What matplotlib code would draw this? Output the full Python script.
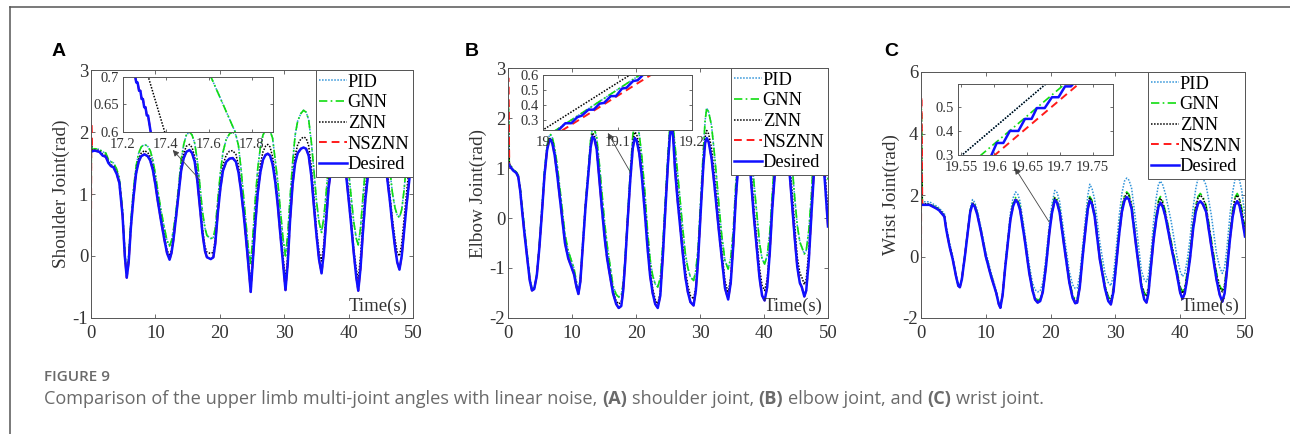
import numpy as np
import matplotlib.pyplot as plt
from matplotlib.lines import Line2D
from matplotlib.ticker import FuncFormatter

plt.rcParams['font.family'] = ['Liberation Serif', 'DejaVu Serif']
plt.rcParams['axes.unicode_minus'] = False

# ---------------- panel A : shoulder joint ----------------
tA = [0, 0.05, 0.15, 0.6, 1.3, 1.8, 2.3, 2.7, 3.1, 3.5,
      4.0, 4.4, 4.9, 5.25, 5.55, 5.85, 6.2, 6.6, 7.0, 7.4,
      7.8, 8.3, 8.8, 9.2, 9.6, 10.0, 10.35, 10.9, 11.4, 11.8,
      12.2, 12.5, 12.8, 13.2, 13.6, 14.0, 14.4, 14.8, 15.3, 15.7,
      16.1, 16.5, 16.9, 17.3, 17.7, 18.0, 18.6, 19.0, 19.3, 19.7,
      20.1, 20.5, 21.0, 21.5, 22.0, 22.5, 22.9, 23.3, 23.7, 24.05,
      24.4, 24.8, 25.15, 25.5, 25.9, 26.3, 26.7, 27.1, 27.45, 27.8,
      28.2, 28.6, 29.0, 29.4, 29.8, 30.2, 30.55, 30.9, 31.3, 31.7,
      32.1, 32.6, 33.0, 33.4, 33.8, 34.2, 34.6, 35.0, 35.4, 35.8,
      36.15, 36.5, 36.9, 37.3, 37.8, 38.3, 38.8, 39.2, 39.6, 40.0,
      40.4, 40.8, 41.2, 41.5, 41.85, 42.2, 42.6, 43.0, 43.5, 44.0,
      44.6, 45.1, 45.6, 46.0, 46.4, 46.8, 47.2, 47.55, 47.9, 48.25,
      48.6, 49.0, 49.5, 50.0]
desA = [1.68, 1.68, 1.69, 1.70, 1.68, 1.62, 1.60, 1.50, 1.45, 1.43,
        1.32, 1.18, 0.65, 0.00, -0.35, -0.10, 0.47, 0.95, 1.33, 1.52,
        1.61, 1.64, 1.61, 1.54, 1.39, 1.15, 0.90, 0.55, 0.26, 0.05,
        -0.06, 0.05, 0.26, 0.62, 1.00, 1.38, 1.58, 1.68, 1.71, 1.66,
        1.52, 1.22, 0.80, 0.37, 0.08, -0.02, -0.05, -0.02, 0.20, 0.70,
        1.10, 1.38, 1.52, 1.57, 1.58, 1.52, 1.35, 1.05, 0.68, 0.30,
        -0.10, -0.58, -0.05, 0.50, 1.02, 1.35, 1.55, 1.63, 1.65, 1.62,
        1.48, 1.20, 0.82, 0.35, -0.10, -0.55, -0.12, 0.55, 1.15, 1.50,
        1.66, 1.73, 1.75, 1.73, 1.62, 1.30, 0.82, 0.35, -0.05, -0.28,
        0.05, 0.55, 1.10, 1.42, 1.62, 1.70, 1.72, 1.62, 1.32, 0.92,
        0.50, 0.05, -0.35, -0.56, -0.20, 0.35, 0.90, 1.30, 1.55, 1.68,
        1.72, 1.68, 1.52, 1.25, 0.90, 0.50, 0.15, -0.10, -0.22, 0.00,
        0.38, 0.82, 1.30, 1.63]
gnnA = [0.15, 1.90, 1.72, 1.73, 1.72, 1.68, 1.66, 1.56, 1.52, 1.50,
        1.40, 1.26, 0.75, 0.08, -0.30, 0.00, 0.58, 1.08, 1.45, 1.66,
        1.76, 1.80, 1.77, 1.70, 1.55, 1.32, 1.07, 0.72, 0.45, 0.25,
        0.16, 0.25, 0.42, 0.72, 1.12, 1.55, 1.80, 1.95, 2.00, 1.95,
        1.82, 1.55, 1.15, 0.72, 0.45, 0.33, 0.28, 0.30, 0.45, 0.92,
        1.35, 1.68, 1.88, 1.97, 2.00, 1.95, 1.78, 1.40, 0.95, 0.55,
        0.15, -0.12, 0.35, 0.90, 1.42, 1.75, 1.95, 2.03, 2.05, 2.02,
        1.90, 1.55, 1.20, 0.75, 0.30, 0.00, 0.35, 0.92, 1.50, 1.95,
        2.18, 2.30, 2.35, 2.32, 2.20, 1.85, 1.40, 0.90, 0.55, 0.38,
        0.62, 1.00, 1.50, 1.88, 2.15, 2.30, 2.35, 2.20, 1.82, 1.38,
        0.95, 0.55, 0.28, 0.18, 0.45, 0.92, 1.40, 1.85, 2.15, 2.35,
        2.42, 2.38, 2.15, 1.80, 1.40, 1.02, 0.78, 0.66, 0.62, 0.75,
        1.05, 1.50, 2.05, 2.47]
znnA = [0.15, 1.85, 1.71, 1.71, 1.70, 1.64, 1.62, 1.52, 1.47, 1.45,
        1.35, 1.21, 0.68, 0.03, -0.33, -0.06, 0.50, 0.99, 1.37, 1.57,
        1.66, 1.70, 1.67, 1.60, 1.45, 1.20, 0.95, 0.60, 0.32, 0.10,
        0.00, 0.10, 0.30, 0.64, 1.03, 1.44, 1.66, 1.77, 1.80, 1.75,
        1.60, 1.32, 0.90, 0.45, 0.15, 0.06, 0.04, 0.06, 0.28, 0.76,
        1.18, 1.47, 1.63, 1.69, 1.70, 1.64, 1.46, 1.12, 0.72, 0.35,
        -0.02, -0.45, 0.05, 0.62, 1.15, 1.48, 1.68, 1.77, 1.80, 1.76,
        1.60, 1.30, 0.90, 0.45, 0.02, -0.38, 0.00, 0.65, 1.25, 1.62,
        1.80, 1.89, 1.92, 1.90, 1.78, 1.45, 0.98, 0.45, 0.08, -0.08,
        0.20, 0.68, 1.22, 1.56, 1.78, 1.88, 1.92, 1.78, 1.45, 1.02,
        0.60, 0.12, -0.22, -0.38, 0.00, 0.52, 1.05, 1.45, 1.72, 1.88,
        1.95, 1.90, 1.70, 1.40, 1.00, 0.60, 0.28, 0.06, 0.00, 0.20,
        0.58, 1.02, 1.52, 1.90]
pidA = gnnA                      # PID lies under the GNN curve in this panel
nszA_head = [0.15, 2.15, 1.70]   # NSZNN start-up spike, then it follows the desired path

# inset A (17.2 - 17.9 s)
insA_t = [17.255, 17.262, 17.268, 17.275, 17.281, 17.287, 17.293, 17.299, 17.305, 17.311,
          17.317, 17.323, 17.33]
insA_des = [0.705, 0.69, 0.69, 0.675, 0.675, 0.66, 0.66, 0.645, 0.645, 0.63, 0.63, 0.615, 0.598]
insA_znn_t = [17.316, 17.397]
insA_znn = [0.703, 0.597]
insA_gnn_t = [17.605, 17.727]
insA_gnn = [0.705, 0.597]

# ---------------- panel B : elbow joint ----------------
tB = [0, 0.05, 0.2, 0.8, 1.3, 1.6, 1.9, 2.2, 2.6, 3.0,
      3.4, 3.75, 4.1, 4.5, 4.9, 5.3, 5.7, 6.1, 6.4, 6.65,
      6.95, 7.3, 7.7, 8.1, 8.5, 8.9, 9.4, 9.9, 10.3, 10.7,
      11.0, 11.3, 11.7, 12.1, 12.5, 12.9, 13.2, 13.5, 13.85, 14.3,
      14.7, 15.1, 15.5, 15.9, 16.4, 16.9, 17.3, 17.7, 18.0, 18.3,
      18.7, 19.1, 19.5, 19.8, 20.1, 20.5, 20.9, 21.4, 21.8, 22.2,
      22.6, 23.0, 23.4, 23.8, 24.2, 24.6, 25.0, 25.3, 25.55, 25.8,
      26.1, 26.5, 26.9, 27.3, 27.7, 28.1, 28.5, 29.0, 29.35, 29.7,
      30.1, 30.5, 30.8, 31.05, 31.35, 31.8, 32.2, 32.6, 33.0, 33.4,
      33.9, 34.4, 34.8, 35.2, 35.6, 36.0, 36.5, 36.9, 37.2, 37.6,
      38.0, 38.4, 38.8, 39.3, 39.7, 40.1, 40.5, 40.9, 41.3, 41.7,
      42.1, 42.6, 43.2, 43.6, 44.0, 44.4, 44.8, 45.2, 45.6, 45.9,
      46.3, 46.6, 47.0, 47.4, 47.8, 48.2, 48.65, 49.0, 49.5, 50.0]
desB = [1.10, 1.09, 1.05, 0.95, 0.90, 0.82, 0.55, 0.15, -0.35, -0.80,
        -1.25, -1.45, -1.42, -1.15, -0.60, 0.10, 0.85, 1.35, 1.53, 1.57,
        1.48, 1.25, 0.85, 0.40, -0.05, -0.50, -0.80, -0.98, -1.12, -1.38,
        -1.52, -1.28, -0.53, 0.20, 0.80, 1.40, 1.63, 1.58, 1.38, 0.73,
        0.15, -0.40, -0.82, -1.13, -1.50, -1.72, -1.80, -1.76, -1.45, -0.90,
        -0.05, 0.75, 1.40, 1.60, 1.55, 1.30, 0.85, 0.07, -0.60, -1.15,
        -1.50, -1.72, -1.80, -1.55, -0.75, 0.20, 1.10, 1.65, 1.85, 1.62,
        0.96, 0.35, -0.17, -0.70, -1.17, -1.48, -1.68, -1.75, -1.45, -0.85,
        0.10, 1.00, 1.50, 1.60, 1.52, 1.20, 0.72, 0.20, -0.32, -0.80,
        -1.40, -1.63, -1.30, -0.55, 0.40, 1.10, 1.55, 1.68, 1.70, 1.35,
        0.70, 0.05, -0.50, -1.20, -1.55, -1.65, -1.38, -0.70, 0.20, 0.90,
        1.35, 1.62, 1.70, 1.45, 0.90, 0.25, -0.40, -0.98, -1.30, -1.38,
        -1.57, -1.45, -0.85, 0.05, 0.90, 1.45, 1.70, 1.50, 0.75, -0.17]
gnnB = [1.00, 2.30, 1.10, 0.97, 0.92, 0.86, 0.62, 0.25, -0.25, -0.72,
        -1.18, -1.42, -1.40, -1.12, -0.52, 0.20, 0.95, 1.45, 1.63, 1.67,
        1.60, 1.40, 1.05, 0.60, 0.15, -0.32, -0.65, -0.85, -1.00, -1.28,
        -1.45, -1.22, -0.45, 0.30, 0.90, 1.55, 1.80, 1.78, 1.62, 1.05,
        0.48, -0.10, -0.55, -0.90, -1.35, -1.53, -1.58, -1.55, -1.30, -0.80,
        0.05, 0.90, 1.65, 1.90, 1.88, 1.68, 1.25, 0.50, -0.25, -0.82,
        -1.15, -1.32, -1.38, -1.20, -0.50, 0.40, 1.30, 1.85, 2.00, 1.85,
        1.45, 0.90, 0.35, -0.20, -0.70, -1.00, -1.18, -1.25, -1.05, -0.60,
        0.35, 1.30, 1.95, 2.20, 2.12, 1.85, 1.35, 0.80, 0.20, -0.35,
        -0.85, -1.02, -0.80, -0.25, 0.70, 1.50, 2.10, 2.28, 2.30, 2.00,
        1.40, 0.75, 0.20, -0.50, -0.82, -0.92, -0.75, -0.30, 0.50, 1.25,
        1.85, 2.25, 2.40, 2.15, 1.70, 1.05, 0.40, -0.15, -0.48, -0.58,
        -0.72, -0.65, -0.25, 0.45, 1.45, 2.00, 2.35, 2.25, 1.55, 0.75]
znnB = [1.00, 2.20, 1.08, 0.96, 0.91, 0.84, 0.58, 0.18, -0.32, -0.78,
        -1.22, -1.45, -1.42, -1.15, -0.58, 0.13, 0.88, 1.40, 1.57, 1.60,
        1.53, 1.30, 0.90, 0.45, 0.00, -0.45, -0.77, -0.95, -1.10, -1.35,
        -1.50, -1.27, -0.52, 0.22, 0.82, 1.45, 1.70, 1.65, 1.45, 0.80,
        0.22, -0.32, -0.75, -1.05, -1.45, -1.66, -1.72, -1.68, -1.42, -0.88,
        -0.02, 0.78, 1.50, 1.72, 1.68, 1.43, 0.98, 0.20, -0.48, -1.03,
        -1.40, -1.63, -1.72, -1.48, -0.70, 0.25, 1.15, 1.72, 1.90, 1.70,
        1.15, 0.55, 0.00, -0.55, -1.02, -1.35, -1.55, -1.62, -1.38, -0.80,
        0.15, 1.08, 1.62, 1.75, 1.68, 1.40, 0.92, 0.40, -0.15, -0.65,
        -1.25, -1.50, -1.18, -0.48, 0.48, 1.22, 1.70, 1.80, 1.82, 1.52,
        0.92, 0.25, -0.30, -1.00, -1.35, -1.45, -1.22, -0.60, 0.28, 1.00,
        1.48, 1.76, 1.85, 1.62, 1.15, 0.50, -0.15, -0.78, -1.10, -1.18,
        -1.33, -1.22, -0.65, 0.20, 1.05, 1.60, 1.80, 1.65, 0.98, 0.10]
pidB = gnnB
nszB_head = [0.95, 2.80, 1.05]

# inset B (19.0 - 19.2 s)
insB_t = [19.020, 19.030, 19.038, 19.046, 19.052, 19.061, 19.068, 19.076, 19.082, 19.091,
          19.098, 19.106, 19.112, 19.121, 19.127, 19.136]
insB_des = [0.23, 0.28, 0.28, 0.32, 0.33, 0.37, 0.37, 0.41, 0.415, 0.46, 0.46, 0.51, 0.515,
            0.56, 0.565, 0.61]
insB_znn_t = [18.995, 19.123]
insB_znn = [0.22, 0.62]
insB_gnn_t = [19.013, 19.136]
insB_gnn = [0.22, 0.62]
insB_nsz_t = [19.025, 19.148]
insB_nsz = [0.23, 0.61]

# ---------------- panel C : wrist joint ----------------
tC = [0, 0.05, 0.2, 1.3, 2.3, 2.8, 3.2, 3.6, 3.9, 4.4,
      4.9, 5.4, 5.75, 6.0, 6.3, 6.8, 7.2, 7.6, 7.95, 8.3,
      8.7, 9.3, 10.0, 10.8, 11.6, 12.0, 12.25, 12.6, 13.0, 13.4,
      13.8, 14.2, 14.6, 14.95, 15.3, 16.0, 16.7, 17.2, 17.6, 18.0,
      18.4, 18.8, 19.3, 19.8, 20.2, 20.65, 21.0, 21.4, 22.1, 22.9,
      23.4, 23.8, 24.1, 24.5, 25.0, 25.4, 25.75, 26.05, 26.4, 26.8,
      27.6, 28.4, 28.9, 29.3, 29.7, 30.1, 30.6, 31.0, 31.4, 31.75,
      32.1, 32.5, 33.2, 34.0, 34.45, 34.8, 35.1, 35.5, 35.9, 36.3,
      36.65, 36.95, 37.3, 37.7, 38.6, 39.5, 40.0, 40.35, 40.7, 41.1,
      41.5, 42.0, 42.4, 42.75, 43.1, 43.5, 44.0, 44.8, 45.6, 46.1,
      46.5, 46.85, 47.2, 47.7, 48.1, 48.45, 48.8, 49.15, 49.5, 50.0]
desC = [1.68, 1.68, 1.68, 1.68, 1.57, 1.50, 1.40, 1.30, 0.87, 0.33,
        -0.10, -0.64, -0.95, -1.00, -0.75, 0.05, 0.76, 1.45, 1.70, 1.62,
        1.35, 0.76, 0.00, -0.64, -1.18, -1.55, -1.67, -1.25, -0.35, 0.44,
        1.20, 1.63, 1.84, 1.75, 1.50, 0.55, -0.53, -1.10, -1.40, -1.50,
        -1.45, -1.15, -0.31, 0.75, 1.40, 1.84, 1.75, 1.42, 0.33, -0.86,
        -1.35, -1.52, -1.50, -1.00, 0.10, 0.90, 1.55, 1.82, 1.70, 1.30,
        -0.10, -1.05, -1.45, -1.56, -1.15, -0.31, 0.75, 1.45, 1.82, 1.93,
        1.85, 1.55, 0.33, -0.97, -1.40, -1.50, -1.20, -0.31, 0.55, 1.20,
        1.62, 1.75, 1.62, 1.32, 0.33, -0.60, -1.18, -1.38, -1.20, -0.70,
        -0.10, 0.90, 1.45, 1.72, 1.80, 1.70, 1.45, 0.33, -0.75, -1.25,
        -1.47, -1.20, -0.50, 0.60, 1.30, 1.68, 1.80, 1.65, 1.30, 0.65]
pidC = [1.78, 1.78, 1.78, 1.78, 1.65, 1.58, 1.48, 1.40, 0.97, 0.45,
        0.00, -0.58, -0.92, -0.98, -0.68, 0.15, 0.85, 1.58, 1.85, 1.76,
        1.50, 0.90, 0.15, -0.50, -1.10, -1.52, -1.65, -1.15, -0.20, 0.60,
        1.42, 1.90, 2.10, 2.02, 1.78, 0.80, -0.25, -0.85, -1.08, -1.15,
        -1.12, -0.85, 0.00, 1.05, 1.70, 2.15, 2.08, 1.78, 0.70, -0.50,
        -0.92, -1.04, -1.03, -0.60, 0.45, 1.30, 2.00, 2.35, 2.20, 1.85,
        0.45, -0.55, -0.85, -0.95, -0.60, 0.20, 1.35, 2.05, 2.45, 2.55,
        2.48, 2.22, 1.05, -0.45, -0.75, -0.82, -0.60, 0.15, 1.15, 1.90,
        2.35, 2.45, 2.33, 2.05, 1.15, 0.00, -0.48, -0.65, -0.55, -0.10,
        0.55, 1.60, 2.20, 2.55, 2.65, 2.55, 2.32, 1.35, 0.10, -0.35,
        -0.55, -0.35, 0.25, 1.40, 2.10, 2.50, 2.62, 2.48, 2.15, 1.30]
gnnC = [0.60, 4.80, 1.72, 1.70, 1.60, 1.53, 1.44, 1.33, 0.90, 0.37,
        -0.06, -0.62, -0.95, -1.00, -0.72, 0.10, 0.80, 1.50, 1.75, 1.67,
        1.40, 0.82, 0.05, -0.60, -1.15, -1.53, -1.65, -1.20, -0.30, 0.50,
        1.28, 1.72, 1.92, 1.84, 1.60, 0.62, -0.45, -1.02, -1.32, -1.42,
        -1.38, -1.08, -0.22, 0.85, 1.50, 1.95, 1.86, 1.52, 0.42, -0.75,
        -1.25, -1.39, -1.38, -0.88, 0.20, 1.00, 1.68, 1.95, 1.82, 1.42,
        0.05, -0.92, -1.30, -1.40, -1.00, -0.18, 0.90, 1.60, 1.98, 2.10,
        2.02, 1.72, 0.50, -0.85, -1.18, -1.25, -0.98, -0.15, 0.70, 1.35,
        1.82, 1.95, 1.80, 1.48, 0.50, -0.45, -0.98, -1.15, -1.00, -0.50,
        0.10, 1.10, 1.68, 1.95, 2.05, 1.95, 1.66, 0.55, -0.52, -0.95,
        -1.10, -0.90, -0.30, 0.80, 1.52, 1.92, 2.05, 1.90, 1.55, 0.95]
znnC = [0.60, 4.60, 1.72, 1.70, 1.60, 1.53, 1.44, 1.33, 0.90, 0.37,
        -0.06, -0.62, -0.95, -1.00, -0.72, 0.10, 0.80, 1.50, 1.75, 1.66,
        1.38, 0.80, 0.04, -0.60, -1.15, -1.54, -1.66, -1.22, -0.32, 0.48,
        1.25, 1.70, 1.88, 1.80, 1.56, 0.60, -0.47, -1.05, -1.36, -1.47,
        -1.42, -1.12, -0.25, 0.82, 1.46, 1.90, 1.81, 1.48, 0.40, -0.78,
        -1.30, -1.44, -1.43, -0.92, 0.17, 0.96, 1.64, 1.92, 1.78, 1.38,
        0.00, -0.97, -1.35, -1.45, -1.05, -0.22, 0.85, 1.55, 1.93, 2.05,
        1.97, 1.67, 0.45, -0.90, -1.23, -1.30, -1.03, -0.20, 0.65, 1.30,
        1.77, 1.90, 1.75, 1.43, 0.45, -0.50, -1.03, -1.20, -1.05, -0.55,
        0.05, 1.05, 1.62, 1.90, 2.00, 1.90, 1.62, 0.50, -0.58, -1.00,
        -1.15, -0.95, -0.35, 0.75, 1.47, 1.87, 2.00, 1.85, 1.50, 0.90]
nszC_head = [-0.50, 5.20, 1.68]

# inset C (19.55 - 19.78 s)
insC_t = [19.596, 19.604, 19.614, 19.624, 19.637, 19.647, 19.657, 19.665, 19.677, 19.688,
          19.698, 19.708, 19.717, 19.725]
insC_des = [0.30, 0.35, 0.35, 0.40, 0.40, 0.45, 0.45, 0.495, 0.495, 0.54, 0.54, 0.585,
            0.585, 0.61]
insC_znn_t = [19.549, 19.683]
insC_znn = [0.295, 0.605]
insC_gnn_t = [19.578, 19.712]
insC_gnn = [0.295, 0.605]
insC_nsz_t = [19.599, 19.733]
insC_nsz = [0.295, 0.605]

for t, *ys in [(tA, desA, gnnA, znnA), (tB, desB, gnnB, znnB), (tC, desC, pidC, gnnC, znnC)]:
    assert all(len(y) == len(t) for y in ys)

labels = ['PID', 'GNN', 'ZNN', 'NSZNN', 'Desired']
c_pid, c_gnn, c_znn, c_nsz, c_des = '#2f93d8', '#11dd11', 'black', '#ff1a1a', '#1010ff'
W, H = 1290, 434
ink = '#333333'
ls_pid, ls_gnn, ls_znn, ls_nsz = (0, (1, 1)), (0, (5, 2, 1, 2)), (0, (1, 1)), (0, (4, 2.5))


def rect(x0, y0, x1, y1):
    return [x0 / W, 1 - y1 / H, (x1 - x0) / W, (y1 - y0) / H]


def style(ax, fs):
    for s in ax.spines.values():
        s.set_color('#555555')
        s.set_linewidth(0.7)
    ax.tick_params(direction='in', top=True, right=True, length=3, width=0.6,
                   colors='#555555', labelcolor=ink, labelsize=fs, pad=2)


def curves(ax, pid, gnn, znn, nsz, des):
    # each argument is a (t, y) pair
    ax.plot(*pid, ls=ls_pid, color=c_pid, lw=1.1)
    ax.plot(*gnn, ls=ls_gnn, color=c_gnn, lw=1.2)
    ax.plot(*znn, ls=ls_znn, color=c_znn, lw=1.1)
    ax.plot(*nsz, ls=ls_nsz, color=c_nsz, lw=1.4)
    ax.plot(*des, ls='-', color=c_des, lw=1.8)


fig = plt.figure(figsize=(W / 100, H / 100), dpi=100)

panels = [
    dict(box=(91, 70, 413, 318), t=tA, pid=pidA, gnn=gnnA, znn=znnA,
         nsz=nszA_head + desA[3:], des=desA, ylim=(-1, 3), yt=[-1, 0, 1, 2, 3],
         ylab='Shoulder Joint(rad)', let='A', let_xy=(52, 52),
         arrow=((16.9, 1.23), (12.7, 1.71))),
    dict(box=(508, 68, 828, 318), t=tB, pid=pidB, gnn=gnnB, znn=znnB,
         nsz=nszB_head + desB[3:], des=desB, ylim=(-2, 3), yt=[-2, -1, 0, 1, 2, 3],
         ylab='Elbow Joint(rad)', let='B', let_xy=(465, 52),
         arrow=((19.1, 0.92), (15.6, 1.70))),
    dict(box=(921, 72, 1245, 318), t=tC, pid=pidC, gnn=gnnC, znn=znnC,
         nsz=nszC_head + desC[3:], des=desC, ylim=(-2, 6), yt=[-2, 0, 2, 4, 6],
         ylab='Wrist Joint(rad)', let='C', let_xy=(884, 52),
         arrow=((19.75, 1.13), (14.5, 2.88))),
]

for p in panels:
    ax = fig.add_axes(rect(*p['box']))
    t = p['t']
    curves(ax, (t, p['pid']), (t, p['gnn']), (t, p['znn']), (t, p['nsz']), (t, p['des']))
    ax.set_xlim(0, 50)
    ax.set_ylim(*p['ylim'])
    ax.set_xticks([0, 10, 20, 30, 40, 50])
    ax.set_yticks(p['yt'])
    style(ax, 13.5)
    ax.tick_params(axis='x', pad=5)
    ax.set_ylabel(p['ylab'], fontsize=13.8, color=ink, labelpad=2)
    ax.text(0.982, 0.012, 'Time(s)', transform=ax.transAxes, ha='right', va='bottom',
            fontsize=13.5, color=ink)
    leg = ax.legend(labels, loc='upper right', borderaxespad=0, fontsize=13.2,
                    handlelength=1.5, handletextpad=0.05, labelspacing=0.2,
                    borderpad=0.2, fancybox=False, framealpha=1, edgecolor='#555555')
    leg.get_frame().set_linewidth(0.7)
    (tail, head) = p['arrow']
    ax.annotate('', xy=head, xytext=tail, annotation_clip=False,
                arrowprops=dict(arrowstyle='-|>', color='#444444', lw=0.6,
                                mutation_scale=9, shrinkA=0, shrinkB=0))
    fig.text(p['let_xy'][0] / W, 1 - p['let_xy'][1] / H, p['let'], fontsize=14,
             fontweight='bold', family='Liberation Sans', ha='left', va='center')

g = FuncFormatter(lambda v, pos: '%g' % v)

# inset A (PID under GNN, NSZNN under desired)
ia = fig.add_axes(rect(123, 77, 273, 132))
curves(ia, (insA_gnn_t, insA_gnn), (insA_gnn_t, insA_gnn), (insA_znn_t, insA_znn),
       (insA_t, insA_des), (insA_t, insA_des))
ia.set_xlim(17.2, 17.9)
ia.set_ylim(0.6, 0.7)
ia.set_xticks([17.2, 17.4, 17.6, 17.8])
ia.set_yticks([0.6, 0.65, 0.7])

# inset B
ib = fig.add_axes(rect(543, 75, 692, 130))
curves(ib, (insB_gnn_t, insB_gnn), (insB_gnn_t, insB_gnn), (insB_znn_t, insB_znn),
       (insB_nsz_t, insB_nsz), (insB_t, insB_des))
ib.set_xlim(19.0, 19.2)
ib.set_ylim(0.235, 0.6)
ib.set_xticks([19.0, 19.1, 19.2])
ib.set_yticks([0.3, 0.4, 0.5, 0.6])

# inset C (PID under ZNN)
ic = fig.add_axes(rect(958, 84, 1113, 155))
curves(ic, (insC_znn_t, insC_znn), (insC_gnn_t, insC_gnn), (insC_znn_t, insC_znn),
       (insC_nsz_t, insC_nsz), (insC_t, insC_des))
ic.set_xlim(19.545, 19.781)
ic.set_ylim(0.3, 0.595)
ic.set_xticks([19.55, 19.6, 19.65, 19.7, 19.75])
ic.set_yticks([0.3, 0.4, 0.5])

for ax in (ia, ib, ic):
    style(ax, 10.5)
    ax.tick_params(length=2.5)
    ax.tick_params(axis='x', pad=4)
    ax.tick_params(axis='y', pad=3)
    ax.xaxis.set_major_formatter(g)
    ax.yaxis.set_major_formatter(g)

# page frame and caption
fig.add_artist(Line2D([10 / W, 1], [1 - 7 / H, 1 - 7 / H], color='#555555', lw=1.1))
fig.add_artist(Line2D([10 / W, 10 / W], [0, 1 - 7 / H], color='#555555', lw=1.1))

cap_font = ['Open Sans', 'DejaVu Sans']
fig.text(44 / W, 1 - 377 / H, 'FIGURE 9', fontsize=11, color='#6a6a6a',
         family=cap_font, fontweight='semibold', va='center')

pieces = [('Comparison of the upper limb multi-joint angles with linear noise,', 'normal'),
          ('(A)', 'bold'), ('shoulder joint,', 'normal'), ('(B)', 'bold'),
          ('elbow joint, and', 'normal'), ('(C)', 'bold'), ('wrist joint.', 'normal')]
fig.canvas.draw()
r = fig.canvas.get_renderer()
probe1 = fig.text(0, 0, 'a a', fontsize=13, family=cap_font)
probe2 = fig.text(0, 0, 'aa', fontsize=13, family=cap_font)
space = probe1.get_window_extent(r).width - probe2.get_window_extent(r).width
probe1.remove()
probe2.remove()
x = 44
for s, w in pieces:
    tx = fig.text(x / W, 1 - 399 / H, s, fontsize=13.05, color='#6a6a6a', family=cap_font,
                  fontweight=w, va='center')
    x += tx.get_window_extent(r).width + space

fig.savefig('out.png', dpi=100)
